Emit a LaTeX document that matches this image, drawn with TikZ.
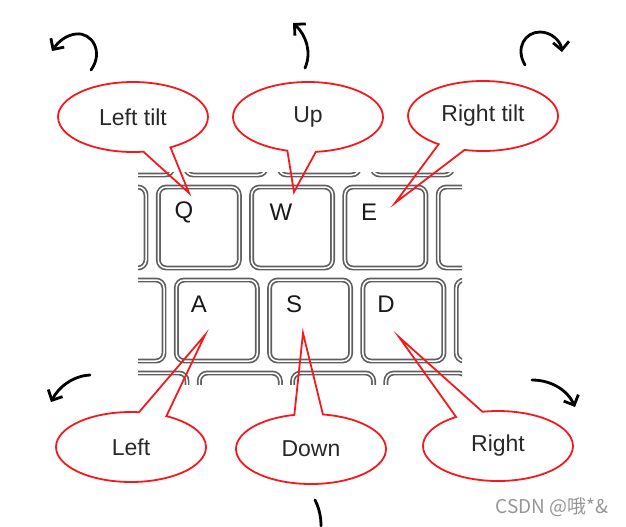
\documentclass[tikz,border=0pt]{standalone}
\usepackage{fontspec}
\setmainfont{Liberation Sans}
\newfontfamily\cjkfont{Noto Sans CJK SC}
\usetikzlibrary{arrows.meta,shapes.callouts}
\definecolor{callred}{RGB}{245,25,30}
\definecolor{keygray}{RGB}{95,95,95}
\definecolor{ink}{RGB}{40,40,40}
\definecolor{mark}{RGB}{150,150,150}
\tikzset{
  bubble/.style={ellipse callout, draw=callred, line width=0.9pt, minimum width=75pt,
              minimum height=35pt, inner sep=0pt, callout pointer arc=22,
              font=\fontsize{11.5}{13}\selectfont, text=ink},
  keycap/.style={draw=keygray, line width=0.85pt, double=white, double distance=0.75pt,
              rounded corners=4pt},
  keylabel/.style={font=\fontsize{12}{14}\selectfont, text=black!90, inner sep=0pt},
  rotarrow/.style={line width=1.4pt, line cap=round, -{Straight Barb[length=4pt,width=8pt]}},
}

\begin{document}
\begin{tikzpicture}[x=0.5pt, y=-0.5pt]
        \useasboundingbox (0,0) rectangle (626,526);
        % ===================== keyboard =====================
        \begin{scope}
          \clip (138,172) rectangle (462,384);
          \foreach \ry/\rx in {91/89, 184/62, 277/80, 370/103}
            \foreach \k in {0,...,4}
              \draw[keycap] (\rx+93.3*\k+3, \ry+3) rectangle ++(81,81);
        \end{scope}
        \node[keylabel] (kq) at (184,212) {Q};
        \node[keylabel] (kw) at (281,212) {W};
        \node[keylabel] (ke) at (369,212) {E};
        \node[keylabel] (ka) at (199,304) {A};
        \node[keylabel] (ks) at (294,304) {S};
        \node[keylabel] (kd) at (386,304) {D};
        % ===================== callouts =====================
        \coordinate (qtip) at (189,193);
        \coordinate (wtip) at (294,192);
        \coordinate (etip) at (395,203);
        \coordinate (atip) at (205,335);
        \coordinate (stip) at (303,333);
        \coordinate (dtip) at (399,337);
        \node[bubble, callout absolute pointer={(qtip)}] (lefttilt)  at (133,117) {Left tilt};
        \node[bubble, callout absolute pointer={(wtip)}] (up)        at (308,117) {Up};
        \node[bubble, callout absolute pointer={(etip)}] (righttilt) at (483,116) {Right tilt};
        \node[bubble, callout absolute pointer={(atip)}] (left)      at (131,447) {Left};
        \node[bubble, callout absolute pointer={(stip)}] (down)      at (311,449) {Down};
        \node[bubble, callout absolute pointer={(dtip)}] (right)     at (498,446) {Right};
        % ===================== arrows =====================
        \draw[rotarrow] (91,70) .. controls (104,52) and (92,32) .. (76,34)
                        .. controls (66,35) and (58,42) .. (52,51);
        \draw[rotarrow] (305,68) .. controls (312,52) and (306,35) .. (293,23);
        \draw[rotarrow] (525,65) .. controls (515,48) and (525,32) .. (540,32)
                        .. controls (552,32) and (561,42) .. (562,52);
        \draw[rotarrow] (90,375) .. controls (72,376) and (58,388) .. (51,402);
        \draw[rotarrow] (532,380) .. controls (552,380) and (568,391) .. (575,407);
        \draw[line width=1.4pt, line cap=round] (315,500) .. controls (319,508) and (321,516) .. (321,526);
        % ===================== watermark =====================
        \node[anchor=west, inner sep=0pt, text=mark, font=\cjkfont\fontsize{9.5}{11}\selectfont]
          (wm) at (495,507) {CSDN @哦*\&};
      \end{tikzpicture}
\end{document}
